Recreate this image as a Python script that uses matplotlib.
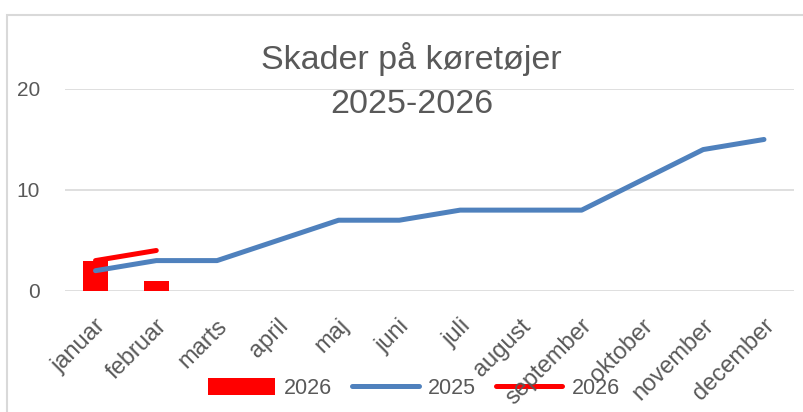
# Skader på køretøjer 2025-2026 - combo chart (bars + lines)
import numpy as np
import matplotlib.pyplot as plt
import matplotlib.transforms as mtransforms
from matplotlib.patches import Rectangle

# Data
months = ["januar", "februar", "marts", "april", "maj", "juni", "juli",
          "august", "september", "oktober", "november", "december"]
bars_2026 = [3, 1]
line_2025 = [2, 3, 3, 5, 7, 7, 8, 8, 8, 11, 14, 15]
line_2026 = [3, 4]

# Colours
c_blue = "#4F81BD"
c_red = "#FF0000"
c_text = "#595959"
c_grid = "#D9D9D9"

plt.rcParams["font.family"] = ["Liberation Sans", "DejaVu Sans"]

fig = plt.figure(figsize=(8.04, 4.12), dpi=100)
ax = fig.add_axes([0.081, 0.294, 0.907, 0.490])
ax.patch.set_visible(False)

x = np.arange(len(months))
h_bar = ax.bar(x[:len(bars_2026)], bars_2026, width=0.41, color=c_red, label="2026", zorder=2)
h_25, = ax.plot(x, line_2025, color=c_blue, lw=3.6, solid_capstyle="round", label="2025", zorder=3)
h_26, = ax.plot(x[:len(line_2026)], line_2026, color=c_red, lw=3.6, solid_capstyle="round",
                label="2026", zorder=4)

ax.set_xlim(-0.5, len(months) - 0.5)
ax.set_ylim(0, 20)
ax.set_yticks([0, 10, 20])
ax.grid(axis="y", color=c_grid, lw=1.2, zorder=0)
for s in ax.spines.values():
    s.set_visible(False)
ax.tick_params(length=0, labelsize=15, labelcolor=c_text)
ax.tick_params(axis="y", pad=18)
ax.set_xticks(x)
ax.set_xticklabels(months, rotation=45, ha="right", va="center", rotation_mode="anchor",
                   fontsize=17)
offset = mtransforms.ScaledTranslation(0.07, -0.27, fig.dpi_scale_trans)
for lbl in ax.get_xticklabels():
    lbl.set_transform(lbl.get_transform() + offset)

# Title
fig.text(0.512, 0.8325, "Skader på køretøjer", ha="center", va="baseline",
         fontsize=24.5, color=c_text)
fig.text(0.512, 0.726, "2025-2026", ha="center", va="baseline",
         fontsize=24.5, color=c_text)

# Legend (drawn under the tick labels, as in the original)
leg = fig.legend([h_bar, h_25, h_26], ["2026", "2025", "2026"],
                 loc="center", bbox_to_anchor=(0.515, 0.058), ncol=3, frameon=False,
                 fontsize=15.5, handlelength=3.1, handleheight=0.85, columnspacing=0.9,
                 handletextpad=0.45, labelcolor=c_text)
leg.set_zorder(-1)

# Chart border
fig.patches.append(Rectangle((0.009, -0.1), 1.1, 1.064, transform=fig.transFigure,
                             fill=False, edgecolor=c_grid, lw=1.5))

fig.savefig("out.png", dpi=100)
